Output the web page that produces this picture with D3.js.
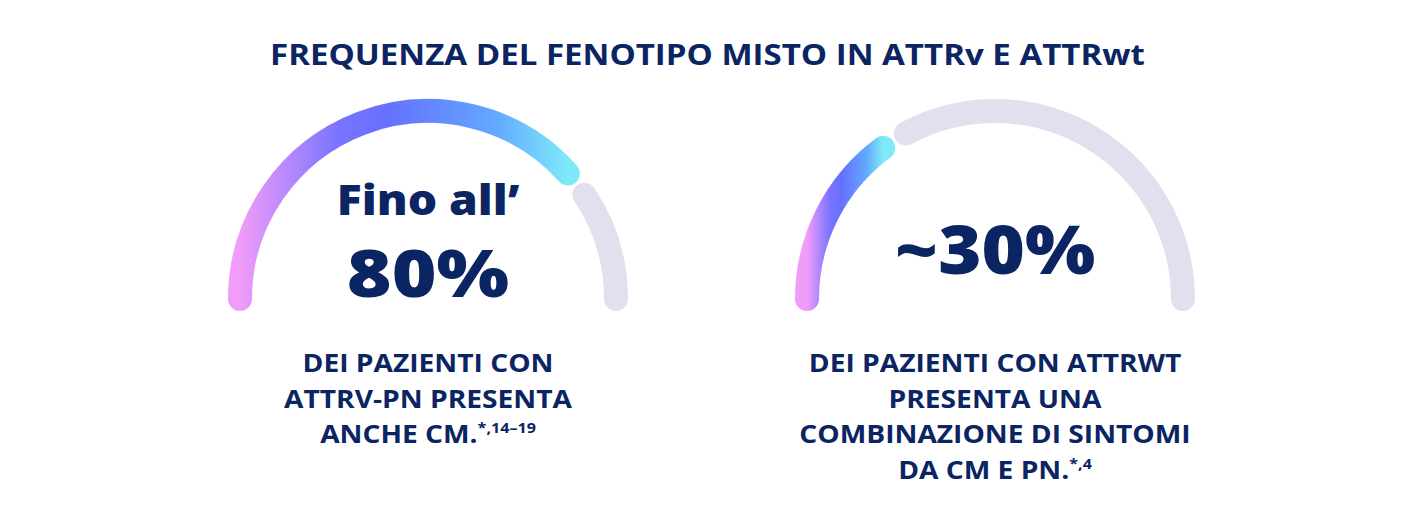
<!DOCTYPE html>
<html>
<head>
<meta charset="utf-8">
<script src="https://cdn.jsdelivr.net/npm/d3@7"></script>
<style>
  html, body { margin: 0; padding: 0; background: #fff; }
  svg { display: block; }
  text { font-family: "Open Sans", sans-serif; fill: #0b2462; }
</style>
</head>
<body>
<script>
// Données
const chartTitle = "FREQUENZA DEL FENOTIPO MISTO IN ATTRv E ATTRwt";
const gaugeValues = [79, 32];           // position de la coupure sur l'arc (%)
const headlines = [["Fino all’", "80%"], ["~30%"]];
const captions = [
    ["DEI PAZIENTI CON", "ATTRV-PN PRESENTA", "ANCHE CM."],
    ["DEI PAZIENTI CON ATTRWT", "PRESENTA UNA", "COMBINAZIONE DI SINTOMI", "DA CM E PN."]
];
const footnotes = ["*,14–19", "*,4"];
const gradientColors = ["#f09cf9", "#7a74ff", "#6670ff", "#62a9ff", "#7eeaf8"];
const gradientOffsets = [0, 0.3, 0.45, 0.78, 1];

const width = 1415, height = 524;
const centers = [428, 995];
const cy = 299, radius = 188, strokeW = 24;
const halfGap = 4.1 * Math.PI / 180;
// la police d'origine est plus large : on étire horizontalement
const stretch = { title: 1.14, sub: 1.1, big: 1.16, single: 1.09, caption: 1.15 };

const svg = d3.select("body")
    .append("svg")
    .attr("width", width)
    .attr("height", height);

const defs = svg.append("defs");

// Titre
svg.append("g")
    .attr("transform", `translate(${width / 2}, 0)`)
    .append("text")
    .attr("y", 65)
    .attr("text-anchor", "middle")
    .attr("transform", `scale(${stretch.title}, 1)`)
    .style("font-size", "29px")
    .style("font-weight", 700)
    .text(chartTitle);

// angle: 0% à gauche, 100% à droite (sens horaire)
const angle = d3.scaleLinear().domain([0, 100]).range([Math.PI, 2 * Math.PI]);

function arcPath(a0, a1) {
    const p = d3.path();
    p.arc(0, 0, radius, a0, a1);
    return p.toString();
}

gaugeValues.forEach((v, i) => {
    const g = svg.append("g")
        .attr("transform", `translate(${centers[i]}, ${cy})`);

    const grad = defs.append("linearGradient")
        .attr("id", "grad" + i)
        .attr("x1", 0).attr("x2", 1).attr("y1", 0).attr("y2", 0);
    grad.selectAll("stop")
        .data(gradientColors)
        .join("stop")
        .attr("offset", (d, k) => gradientOffsets[k])
        .attr("stop-color", d => d);

    // partie grise
    g.append("path")
        .attr("d", arcPath(angle(v) + halfGap, angle(100)))
        .attr("fill", "none")
        .attr("stroke", "#e1e0ee")
        .attr("stroke-width", strokeW)
        .attr("stroke-linecap", "round");

    // partie colorée
    g.append("path")
        .attr("d", arcPath(angle(0), angle(v) - halfGap))
        .attr("fill", "none")
        .attr("stroke", `url(#grad${i})`)
        .attr("stroke-width", strokeW)
        .attr("stroke-linecap", "round");

    // chiffre central
    const lines = headlines[i];
    if (lines.length === 2) {
        g.append("text")
            .attr("y", 215 - cy)
            .attr("text-anchor", "middle")
            .attr("transform", `scale(${stretch.sub}, 1)`)
            .style("font-size", "42px")
            .style("font-weight", 800)
            .text(lines[0]);
        g.append("text")
            .attr("y", 297 - cy)
            .attr("text-anchor", "middle")
            .attr("transform", `scale(${stretch.big}, 1)`)
            .style("font-size", "66px")
            .style("font-weight", 800)
            .text(lines[1]);
    } else {
        g.append("text")
            .attr("y", 274 - cy)
            .attr("text-anchor", "middle")
            .attr("transform", `scale(${stretch.single}, 1)`)
            .style("font-size", "68px")
            .style("font-weight", 800)
            .text(lines[0]);
    }

    // légende sous la jauge
    const cap = captions[i];
    cap.forEach((line, k) => {
        const t = g.append("text")
            .attr("y", 372.5 - cy + k * 35.5)
            .attr("text-anchor", "middle")
            .attr("transform", `scale(${stretch.caption}, 1)`)
            .style("font-size", "24.5px")
            .style("font-weight", 700)
            .text(line);
        if (k === cap.length - 1) {
            t.append("tspan")
                .attr("dy", -10)
                .style("font-size", "14px")
                .text(footnotes[i]);
        }
    });
});
</script>
</body>
</html>
